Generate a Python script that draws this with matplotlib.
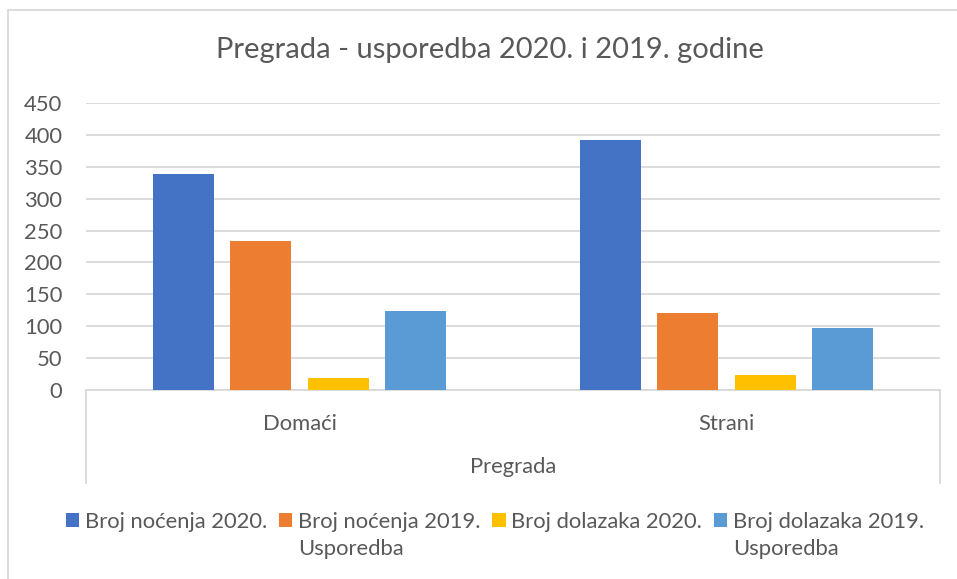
import matplotlib.pyplot as plt
import matplotlib.patches as mpatches
import numpy as np

categories = ['Domaći', 'Strani']
series_names = ['Broj noćenja 2020.', 'Broj noćenja 2019.',
                'Broj dolazaka 2020.', 'Broj dolazaka 2019.']
series_values = [
    [338, 392],
    [234, 120],
    [19, 23],
    [124, 97],
]
colors = ['#4472C4', '#ED7D31', '#FFC000', '#5B9BD5']
yticks = [0, 50, 100, 150, 200, 250, 300, 350, 400, 450]

plt.rcParams['font.family'] = ['Lato', 'DejaVu Sans']
txt = '#595959'
grid = '#d9d9d9'
fs = 15.8

fig = plt.figure(figsize=(9.57, 5.79), dpi=100)
ax = fig.add_axes([86 / 957, 1 - 390 / 579, (940 - 86) / 957, (390 - 103) / 579])

x = np.arange(len(categories))
step = 0.1815
width = 0.143
for i, (name, vals) in enumerate(zip(series_names, series_values)):
    ax.bar(x + (i - 1.5) * step, vals, width, color=colors[i], label=name, zorder=3)

ax.set_xlim(-0.5, 1.5)
ax.set_ylim(0, 450)
ax.set_yticks(yticks)
ax.set_yticklabels([str(v) for v in yticks], fontsize=fs, color=txt)
ax.yaxis.grid(True, color=grid, linewidth=1.3, zorder=0)
ax.tick_params(axis='y', length=0, pad=17)
ax.tick_params(axis='x', length=0, pad=17)
ax.set_xticks(x)
ax.set_xticklabels(categories, fontsize=fs, color=txt)
for s in ['left', 'right', 'top']:
    ax.spines[s].set_visible(False)
ax.spines['bottom'].set_color(grid)
ax.spines['bottom'].set_linewidth(1.3)

# multi-level category box
for xv in [-0.5, 1.5]:
    ax.axvline(xv, ymin=-0.325, ymax=0, color=grid, linewidth=1.3, clip_on=False)
ax.text(0.5, -0.268, 'Pregrada', transform=ax.transAxes, ha='center', va='center',
        fontsize=fs, color=txt)

fig.text(490 / 957, 1 - 50 / 579, 'Pregrada - usporedba 2020. i 2019. godine',
         ha='center', va='center', fontsize=21, color=txt)

leg = fig.legend(loc='center', bbox_to_anchor=(495 / 957, 1 - 522 / 579), ncol=4,
                 frameon=False, fontsize=fs, handlelength=0.6, handleheight=0.6,
                 handletextpad=0.25, columnspacing=0.55, labelcolor=txt)

fig.canvas.draw()
for t in [leg.get_texts()[1], leg.get_texts()[3]]:
    bb = t.get_window_extent()
    fig.text(bb.x0 / fig.bbox.width, (bb.y0 - 27) / fig.bbox.height, 'Usporedba',
             ha='left', va='bottom', fontsize=fs, color=txt)

fig.patches.append(mpatches.Rectangle((8 / 957, -0.01), 1.1, 1 - 10 / 579 + 0.01,
                                      transform=fig.transFigure, fill=False,
                                      edgecolor=grid, linewidth=1.3))

fig.savefig('out.png', dpi=100)
